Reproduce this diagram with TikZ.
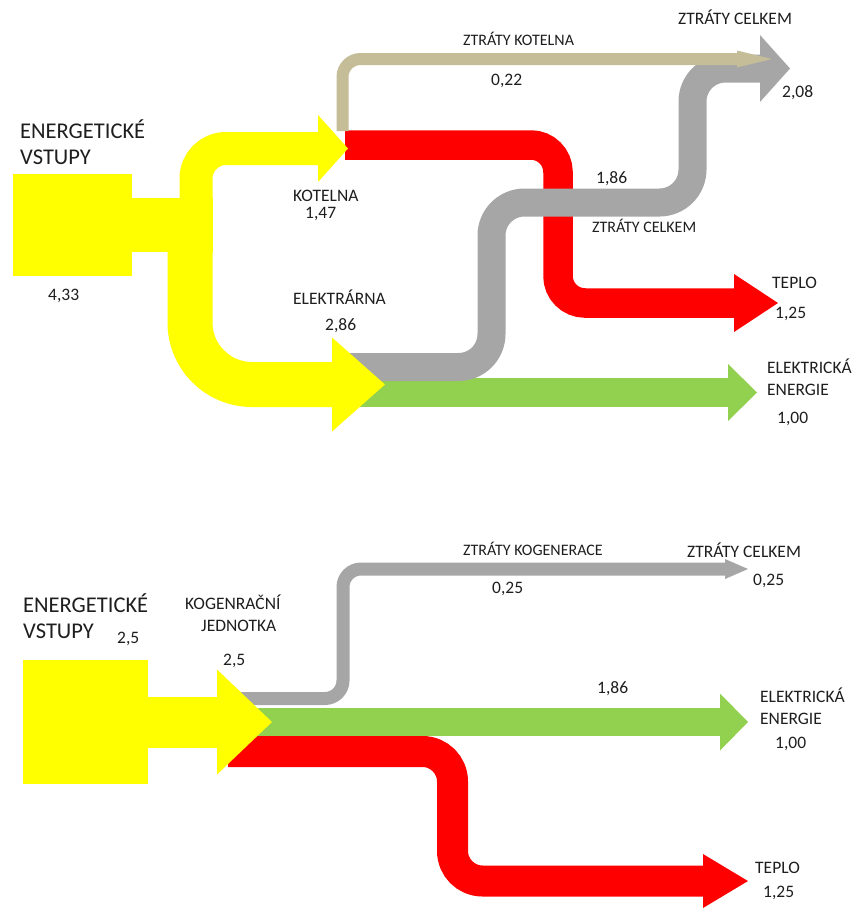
\documentclass[tikz,border=0pt]{standalone}
\usepackage{fontspec}
\setmainfont{Carlito}
\usetikzlibrary{arrows.meta}

\definecolor{flowyellow}{HTML}{FFFF00}
\definecolor{flowred}{HTML}{FF0000}
\definecolor{flowgreen}{HTML}{92D050}
\definecolor{flowgray}{HTML}{A6A6A6}
\definecolor{flowtan}{HTML}{C4BD97}
\definecolor{labelink}{HTML}{1E1E1E}

\tikzset{
	flow/.style={line width=#1, line cap=butt},
	head/.style 2 args={-{Triangle[length=#1,width=#2,line width=0pt]}},
	txt/.style={anchor=base west, inner sep=0pt, text=labelink, font=\fontsize{17.5}{18}\selectfont},
	bigtxt/.style={txt, font=\fontsize{22.5}{24}\selectfont},
	smalltxt/.style={txt, font=\fontsize{16}{17}\selectfont}
}

\begin{document}
\begin{tikzpicture}[x=1pt, y=-1pt]
	\useasboundingbox (0,0) rectangle (855,908);

	% top: separate production
	\coordinate (boxA) at (13,174);
	\coordinate (boxB) at (132,276);
	\coordinate (split) at (193,225);
	\coordinate (kotelna) at (348,148.5);
	\coordinate (elektrarna) at (385,384.5);

	\coordinate (r0) at (345,145);
	\coordinate (r1) at (558,145);
	\coordinate (r2) at (558,303);
	\coordinate (teplo) at (778,303);

	\coordinate (g0) at (360,392.5);
	\coordinate (elen) at (757,392.5);

	\coordinate (s0) at (350,367);
	\coordinate (s1) at (491.5,367);
	\coordinate (s2) at (491.5,202.5);
	\coordinate (s3) at (692.5,202.5);
	\coordinate (s4) at (692.5,68.5);
	\coordinate (ztraty) at (790,68.5);

	\coordinate (t0) at (342.5,131);
	\coordinate (t1) at (342.5,59);
	\coordinate (ztratyk) at (772,59);

	\draw[flowred, flow=29.5pt, head={44pt}{58pt}, rounded corners=27pt] (r0) -- (r1) -- (r2) -- (teplo);
	\draw[flowgreen, flow=29pt, head={29pt}{57pt}] (g0) -- (elen);
	\draw[flowgray, flow=28pt, head={30pt}{67pt}, rounded corners=33pt] (s0) -- (s1) -- (s2) -- (s3) -- (s4) -- (ztraty);
	\draw[flowtan, flow=12pt, head={35pt}{17pt}, rounded corners=18pt] (t0) -- (t1) -- (ztratyk);

	\fill[flowyellow] (boxA) rectangle (boxB);
	\fill[flowyellow] (132,198) rectangle (213,252);
	\draw[flowyellow, flow=33pt, head={30pt}{67pt}, rounded corners=30pt] (196,225) -- (196,148.5) -- (kotelna);
	\draw[flowyellow, flow=45pt, head={53pt}{94pt}, rounded corners=62pt] (190,225) -- (190,384.5) -- (elektrarna);

	\node[bigtxt] (vstupy1) at (20,138) {ENERGETICKÉ};
	\node[bigtxt] (vstupy2) at (20,164) {VSTUPY};
	\node[txt] (vstupyval) at (48,300) {4,33};
	\node[txt] (kot) at (293,201) {KOTELNA};
	\node[txt] (kotval) at (305,218) {1,47};
	\node[txt] (ele) at (293,304) {ELEKTRÁRNA};
	\node[txt] (eleval) at (325,330) {2,86};
	\node[smalltxt] (ztk) at (463,45) {ZTRÁTY KOTELNA};
	\node[txt] (ztkval) at (491,85) {0,22};
	\node[txt] (ztc) at (678,24) {ZTRÁTY CELKEM};
	\node[txt] (ztcval) at (782,97) {2,08};
	\node[txt] (zteval) at (596,183) {1,86};
	\node[smalltxt] (zte) at (592,232) {ZTRÁTY CELKEM};
	\node[txt] (tep) at (772,288) {TEPLO};
	\node[txt] (tepval) at (775,318) {1,25};
	\node[txt] (een1) at (767,373) {ELEKTRICKÁ};
	\node[txt] (een2) at (767,395) {ENERGIE};
	\node[txt] (eenval) at (777,423) {1,00};

	% bottom: cogeneration
	\coordinate (boxC) at (23,660);
	\coordinate (boxD) at (148,784);
	\coordinate (kgj) at (272,722);

	\coordinate (q0) at (240,698.5);
	\coordinate (q1) at (343,698.5);
	\coordinate (q2) at (343,569);
	\coordinate (kztraty) at (748,569);

	\coordinate (h0) at (255,722);
	\coordinate (kelen) at (748,722);

	\coordinate (p0) at (228,751.5);
	\coordinate (p1) at (452.5,751.5);
	\coordinate (p2) at (452.5,881);
	\coordinate (kteplo) at (748,881);

	\draw[flowgray, flow=13pt, head={23pt}{20pt}, rounded corners=18pt] (q0) -- (q1) -- (q2) -- (kztraty);
	\draw[flowgreen, flow=28pt, head={28pt}{57pt}] (h0) -- (kelen);
	\draw[flowred, flow=31pt, head={45pt}{54pt}, rounded corners=30pt] (p0) -- (p1) -- (p2) -- (kteplo);

	\fill[flowyellow] (boxC) rectangle (boxD);
	\draw[flowyellow, flow=51pt, head={55pt}{105pt}] (148,722) -- (kgj);

	\node[bigtxt] (kvstupy1) at (23,612) {ENERGETICKÉ};
	\node[bigtxt] (kvstupy2) at (23,638) {VSTUPY};
	\node[txt] (kvstupyval) at (117,643) {2,5};
	\node[txt] (kog1) at (185,609) {KOGENRAČNÍ};
	\node[txt] (kog2) at (201,631) {JEDNOTKA};
	\node[txt] (kogval) at (223,665) {2,5};
	\node[smalltxt] (kzk) at (463,555) {ZTRÁTY KOGENERACE};
	\node[txt] (kzkval) at (492,593) {0,25};
	\node[txt] (kzc) at (687,557) {ZTRÁTY CELKEM};
	\node[txt] (kzcval) at (753,585) {0,25};
	\node[txt] (keval) at (597,693) {1,86};
	\node[txt] (ken1) at (760,702) {ELEKTRICKÁ};
	\node[txt] (ken2) at (760,724) {ENERGIE};
	\node[txt] (kenval) at (775,748) {1,00};
	\node[txt] (ktep) at (755,873) {TEPLO};
	\node[txt] (ktepval) at (763,897) {1,25};
\end{tikzpicture}
\end{document}
